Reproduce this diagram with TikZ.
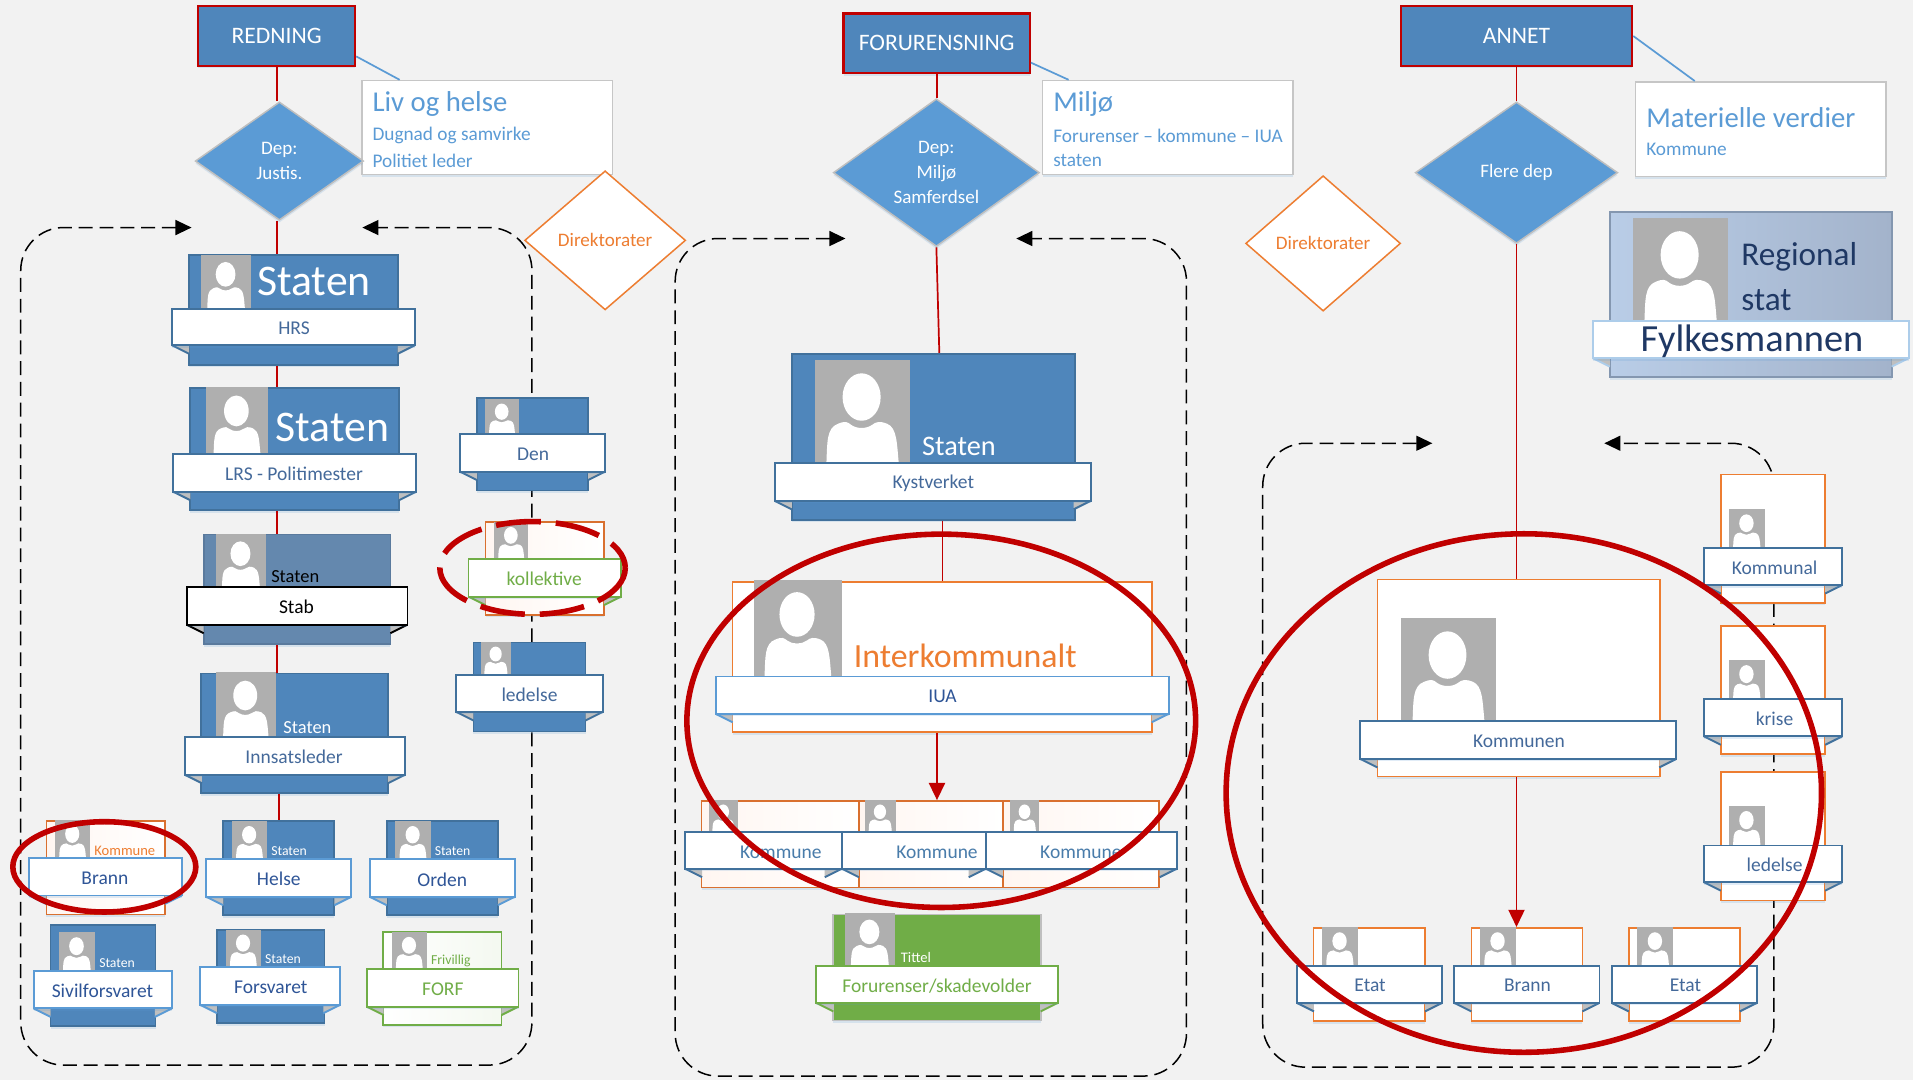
\documentclass[tikz,border=0pt]{standalone}
\usepackage{fontspec}
\setmainfont{Carlito}
\usetikzlibrary{arrows.meta,shapes.geometric,shadows}

\definecolor{bgcol}{HTML}{F2F2F2}
\definecolor{staterblue}{HTML}{4F86BB}
\definecolor{stateredge}{HTML}{41719C}
\definecolor{stabblue}{HTML}{6488AE}
\definecolor{noteblue}{HTML}{5B9BD5}
\definecolor{bandtxt}{HTML}{44699A}
\definecolor{darktxt}{HTML}{2F5597}
\definecolor{navytxt}{HTML}{1F3864}
\definecolor{kommedge}{HTML}{ED7D31}
\definecolor{kommdark}{HTML}{D9702F}
\definecolor{kommpale}{HTML}{FFF6F1}
\definecolor{frivgreen}{HTML}{70AD47}
\definecolor{ringred}{HTML}{C00000}
\definecolor{photogray}{HTML}{AFAFAF}
\definecolor{regionleft}{HTML}{B9CDE7}
\definecolor{regionright}{HTML}{A3B3CB}
\definecolor{regionedge}{HTML}{8497B0}

\tikzset{
  softshadow/.style={drop shadow={shadow xshift=0pt,shadow yshift=-1.2pt,opacity=.18,fill=noteblue}},
  % kort bak
  statebox/.style={rectangle,draw=stateredge,fill=staterblue,line width=.8pt,inner sep=0pt},
  stabbox/.style={statebox,draw=stabblue!90!black,fill=stabblue},
  kommbox/.style={rectangle,draw=kommedge,fill=white,line width=.8pt,inner sep=0pt},
  kommpink/.style={kommbox,draw=kommdark,left color=kommpale,right color=white},
  frivbox/.style={rectangle,draw=frivgreen,line width=.8pt,inner sep=0pt,left color=white,right color=frivgreen!8!white},
  greenbox/.style={statebox,draw=gray!50,fill=frivgreen},
  regionbox/.style={rectangle,draw=regionedge,line width=.8pt,inner sep=0pt,left color=regionleft,right color=regionright},
  % banner
  blueband/.style={rectangle,draw=stateredge,fill=white,line width=.9pt,inner sep=0pt,text=bandtxt,font=\fontsize{9.1}{10}\selectfont},
  lightband/.style={blueband,draw=noteblue,text=darktxt},
  kommband/.style={blueband,text=noteblue!80!black},
  blackband/.style={blueband,draw=black,text=black},
  greenband/.style={blueband,draw=frivgreen,text=frivgreen},
  fylkeband/.style={blueband,draw=noteblue!50!white,text=navytxt,font=\fontsize{17.9}{20}\selectfont},
  % tekst
  headbox/.style={rectangle,draw=ringred,fill=staterblue,line width=1.1pt,text=white,font=\fontsize{11}{12}\selectfont,softshadow},
  depbox/.style={diamond,draw=gray!50,fill=noteblue,line width=.7pt,inner sep=0pt,text=white,align=center,font=\fontsize{8.9}{11.6}\selectfont,softshadow},
  dirbox/.style={diamond,draw=kommedge,fill=white,line width=.7pt,inner sep=0pt,text=kommedge,font=\fontsize{8.9}{10}\selectfont},
  notebox/.style={rectangle,draw=gray!45,fill=white,line width=.7pt,inner sep=0pt,softshadow},
  notetitle/.style={anchor=west,inner sep=0pt,text=noteblue,font=\fontsize{13.4}{15}\selectfont},
  notetext/.style={anchor=west,inner sep=0pt,text=noteblue,font=\fontsize{9}{10}\selectfont},
  cardtext/.style={anchor=west,inner sep=0pt,text=white},
  % linjer
  redline/.style={draw=ringred,line width=.8pt},
  redarrow/.style={redline,-{Triangle[length=8pt,width=7.5pt]}},
  noteline/.style={draw=noteblue,line width=.8pt},
  dashbox/.style={draw=black,line width=.7pt,dash pattern=on 6.5pt off 3.2pt,rounded corners=20pt,
    {Triangle[length=7.5pt,width=7pt]}-{Triangle[length=7.5pt,width=7pt]}},
  redring/.style={draw=ringred,line width=2.6pt},
}

\newcommand{\backbox}[6]{%
  \node[#2,softshadow,minimum width={(#5-#3)*0.02cm},minimum height={(#6-#4)*0.02cm}] (#1) at ({(#3+#5)/2},{(#4+#6)/2}) {};
}
\newcommand{\photo}[4]{%
  \fill[photogray] (#1,#2) rectangle (#3,#4);
  \pgfmathsetmacro{\pw}{#3-#1}
  \pgfmathsetmacro{\ph}{#4-#2}
  \begin{scope}[shift={(#1,#2)},xscale=\pw,yscale=\ph]
    \fill[white] (.49,.36) ellipse [x radius=.2,y radius=.23];
    \fill[white] (.12,1) .. controls (.13,.8) and (.12,.66) .. (.24,.62) .. controls (.32,.59) and (.34,.6) .. (.38,.63)
      .. controls (.44,.67) and (.54,.67) .. (.6,.63) .. controls (.64,.6) and (.68,.59) .. (.76,.62)
      .. controls (.86,.66) and (.86,.8) .. (.88,1) -- cycle;
  \end{scope}
}
\newcommand{\banner}[8]{%
  \fill[gray!50] (#3,#6) -- ({#3+14},{#6+7}) -- ({#3+14},#6) -- cycle;
  \fill[gray!50] (#5,#6) -- ({#5-14},{#6+7}) -- ({#5-14},#6) -- cycle;
  \draw[#2,fill=none] (#3,#6) -- ({#3+14},{#6+7});
  \draw[#2,fill=none] (#5,#6) -- ({#5-14},{#6+7});
  \node[#2,softshadow,minimum width={(#5-#3)*0.02cm},minimum height={(#6-#4)*0.02cm}] (#1) at ({(#3+#5)/2},{(#4+#6)/2}) {};
  \node[#2,draw=none,fill=none] (#1t) at (#7,{(#4+#6)/2+1.2}) {#8};
}

\begin{document}
\begin{tikzpicture}[x=0.02cm,y=-0.02cm]
    \useasboundingbox (0,0) rectangle (1568,885.2);
    \fill[bgcol] (0,0) rectangle (1568,885.2);

    % Stiplede rammer
    \foreach \sec/\xa/\xb/\ya/\yb/\ta/\tb in {a/17/436/186.5/873/157/297, b/553.4/972.5/195.5/882/693/833, c/1035/1454/363.3/874.7/1174/1315}{
        \coordinate (\sec L) at (\ta,\ya);
        \coordinate (\sec R) at (\tb,\ya);
        \draw[dashbox] (\sec L) -- (\xa,\ya) -- (\xa,\yb) -- (\xb,\yb) -- (\xb,\ya) -- (\sec R);
    }

    % Toppbokser
    \node[headbox,minimum width=2.57cm,minimum height=.98cm] (redning) at (226.75,29.5) {REDNING};
    \node[headbox,minimum width=3.05cm,minimum height=.98cm] (forurensning) at (767.75,35.5) {FORURENSNING};
    \node[headbox,minimum width=3.79cm,minimum height=.98cm] (annet) at (1243,29.5) {ANNET};

    % Merknader
    \node[notebox,minimum width=4.11cm,minimum height=1.54cm] (notea) at (399.25,104.5) {};
    \node[notetitle] (noteat) at (305,85.5) {Liv og helse};
    \node[notetext] (noteau) at (305,111) {Dugnad og samvirke};
    \node[notetext] (noteav) at (305,131.5) {Politiet leder};

    \node[notebox,minimum width=4.11cm,minimum height=1.54cm] (noteb) at (957.25,104.5) {};
    \node[notetitle] (notebt) at (863,85.5) {Miljø};
    \node[notetext] (notebu) at (863,111) {Forurenser – kommune – IUA};
    \node[notetext] (notebv) at (863,131.5) {staten};

    \node[notebox,minimum width=4.11cm,minimum height=1.55cm] (notec) at (1443.25,105.75) {};
    \node[notetitle] (notect) at (1349,96) {Materielle verdier};
    \node[notetext] (notecu) at (1349,122.5) {Kommune};

    \draw[noteline] ([yshift=-9.5pt]redning.east) -- ([xshift=18pt]notea.north west);
    \draw[noteline] ([yshift=-9pt]forurensning.east) -- ([xshift=12.5pt]noteb.north west);
    \draw[noteline] ([yshift=0pt]annet.east) -- ([xshift=28pt]notec.north west);

    % Ruter
    \node[depbox,minimum width=2.76cm,minimum height=1.94cm] (depa) at (229,132) {Dep:\\Justis.};
    \node[depbox,minimum width=3.38cm,minimum height=2.32cm] (depb) at (767.5,141.5) {Dep:\\Miljø\\Samferdsel};
    \node[depbox,minimum width=3.32cm,minimum height=2.32cm] (depc) at (1243,141.5) {Flere dep};

    \node[dirbox,minimum width=2.64cm,minimum height=2.28cm] (dira) at (496,197) {Direktorater};
    \node[dirbox,minimum width=2.54cm,minimum height=2.22cm] (dirb) at (1084.5,199.5) {Direktorater};

    % Redning - kolonne
    \backbox{hrsbox}{statebox}{155}{209}{326}{299}
    \photo{165}{209}{205.6}{253}
    \node[cardtext,font=\fontsize{20.4}{22}\selectfont] (hrslab) at (210.5,230.5) {Staten};
    \banner{hrs}{blueband}{141}{253}{340}{283}{241}{HRS}

    \backbox{lrsbox}{statebox}{156}{318}{327}{418}
    \photo{169}{317}{219.5}{372}
    \node[cardtext,font=\fontsize{20.4}{22}\selectfont] (lrslab) at (225.5,350.5) {Staten};
    \banner{lrs}{blueband}{142}{372}{341}{403}{241}{LRS - Politimester}

    \backbox{stabb}{stabbox}{167.5}{438}{320}{528}
    \photo{177}{438}{218}{482}
    \node[cardtext,text=black,font=\fontsize{8.6}{10}\selectfont] (stablab) at (222,472.5) {Staten};
    \banner{stab}{blackband}{153}{481}{334}{512}{243}{Stab}

    \backbox{innbox}{statebox}{165}{552}{318}{650}
    \photo{177}{551}{226}{604}
    \node[cardtext,font=\fontsize{8.6}{10}\selectfont] (innlab) at (232,596) {Staten};
    \banner{inn}{blueband}{151.5}{604}{332}{635}{241}{Innsatsleder}

    % Rader med sma kort
    \foreach \n/\xa/\xb/\pa/\pb/\bxa/\bxb/\tx/\tt in {hel/183/274/190/219/169/288/228.5/Helse, ord/317/408/324/353/303/422/362.5/Orden}{
        \backbox{\n box}{statebox}{\xa}{673}{\xb}{750}
        \photo{\pa}{673}{\pb}{704}
        \node[cardtext,font=\fontsize{6.4}{8}\selectfont] (\n lab) at (\pb+3,697.5) {Staten};
        \banner{\n}{lightband}{\bxa}{704}{\bxb}{735}{\tx}{\tt}
    }

    \backbox{branabox}{kommpink}{38}{673}{135}{749.5}
    \photo{45}{672}{74}{704}
    \node[cardtext,text=kommedge,font=\fontsize{6.8}{8}\selectfont] (branalab) at (77,697) {Kommune};
    \banner{brana}{lightband}{24}{703.5}{149}{734}{86}{Brann}

    \backbox{sivbox}{statebox}{41.5}{758}{127.5}{841}
    \photo{48}{764}{78}{796}
    \node[cardtext,font=\fontsize{6.4}{8}\selectfont] (sivlab) at (81,789.5) {Staten};
    \banner{siv}{lightband}{27.5}{795.5}{141}{826.5}{84}{Sivilforsvaret}

    \backbox{forbox}{statebox}{178}{762}{266}{838.5}
    \photo{185}{762}{214}{792.5}
    \node[cardtext,font=\fontsize{6.4}{8}\selectfont] (forlab) at (217,786) {Staten};
    \banner{for}{lightband}{164}{792.5}{279}{823.5}{222}{Forsvaret}

    \backbox{forfbox}{frivbox}{314}{764}{411}{840}
    \photo{321}{764}{350}{794}
    \node[cardtext,text=frivgreen,font=\fontsize{6.4}{8}\selectfont] (forflab) at (353,788) {Frivillig};
    \banner{forf}{greenband}{300.5}{794}{425}{825}{363}{FORF}

    % Hoyre i rammen
    \backbox{denbox}{statebox}{391}{326.5}{482}{402}
    \photo{397.5}{327}{425.5}{356}
    \banner{den}{blueband}{377}{356}{496}{386.5}{437}{Den}

    \backbox{kolbox}{kommpink}{398}{428}{495}{504}
    \photo{405}{428}{433}{458}
    \banner{kol}{greenband}{384}{458}{509}{489}{446}{kollektive}

    \backbox{ledbox}{statebox}{388}{526.5}{480}{599.5}
    \photo{394}{526.5}{419}{553}
    \banner{led}{blueband}{374}{553}{494}{583.5}{434}{ledelse}

    % Forurensning - kolonne
    \backbox{kysbox}{statebox}{649}{290}{881}{426}
    \photo{668}{295}{746}{379.5}
    \node[cardtext,font=\fontsize{13.2}{15}\selectfont] (kyslab) at (755.5,365.5) {Staten};
    \banner{kys}{blueband}{635}{379.5}{894}{410.5}{765}{Kystverket}

    \backbox{iuabox}{kommbox}{600.5}{477}{944.5}{600}
    \photo{618}{475}{690}{554.5}
    \node[cardtext,text=kommedge,font=\fontsize{15.8}{18}\selectfont] (iualab) at (699.5,537.5) {Interkommunalt};
    \banner{iua}{lightband}{586.5}{554.5}{958}{585}{772.5}{IUA}

    \foreach \n/\xa/\xb/\pa/\pb/\bxa/\bxb/\tx in {koma/575/704/581/605/561.5/690/640, komb/704/822/709/734/690/808/768, komc/822/950/828/852/808/964.5/886}{
        \backbox{\n box}{kommpink}{\xa}{656.5}{\xb}{727.5}
        \photo{\pa}{656}{\pb}{682}
        \banner{\n}{kommband}{\bxa}{682}{\bxb}{712}{\tx}{Kommune}
    }

    \backbox{tilbox}{greenbox}{683}{749.5}{853}{836.5}
    \photo{692.5}{748}{733.5}{792}
    \node[cardtext,font=\fontsize{6.8}{8}\selectfont] (tillab) at (738,785) {Tittel};
    \banner{til}{greenband}{669}{791.5}{867}{822}{768}{Forurenser/skadevolder}

    % Annet - kolonne
    \backbox{fylbox}{regionbox}{1319.5}{173.5}{1550.5}{309}
    \photo{1338.5}{178.5}{1416.5}{263}
    \node[cardtext,text=navytxt,font=\fontsize{15.5}{18}\selectfont] (fyla) at (1427,210.5) {Regional};
    \node[cardtext,text=navytxt,font=\fontsize{15.5}{18}\selectfont] (fylb) at (1427,246) {stat};
    \banner{fyl}{fylkeband}{1305.5}{263}{1564.5}{293.5}{1436}{Fylkesmannen}

    \foreach \n/\ya/\pa/\ba/\bb/\tt in {kal/389/417.5/449/479.5/Kommunal, kri/513/541/573/603.5/krise, lel/632.5/660.5/693/723/ledelse}{
        \backbox{\n box}{kommbox}{1410.5}{\ya}{1496}{\ba+45}
        \photo{1417}{\pa}{1446.5}{\ba}
        \banner{\n}{blueband}{1396.5}{\ba}{1510}{\bb}{1454.5}{\tt}
    }

    \backbox{kunbox}{kommbox}{1129}{475}{1360.5}{636.5}
    \photo{1148.5}{506.5}{1226}{591}
    \banner{kun}{blueband}{1115}{591}{1374}{622}{1245}{Kommunen}

    \foreach \n/\xa/\xb/\pa/\pb/\bxa/\bxb/\tx/\tt in {eta/1076.5/1168/1083.5/1113/1063/1182/1123/Etat, brb/1206/1297/1213/1242.5/1192/1311/1252/Brann, etb/1335/1426/1342/1371.5/1321/1440/1381.5/Etat}{
        \backbox{\n box}{kommbox}{\xa}{760.5}{\xb}{837}
        \photo{\pa}{760}{\pb}{791.5}
        \banner{\n}{blueband}{\bxa}{791.5}{\bxb}{822}{\tx}{\tt}
    }

    % Rode linjer
    \draw[redline] (redning) -- (redning |- depa.north);
    \draw[redline] (redning |- depa.south) -- (redning |- hrsbox.north);
    \draw[redline] (redning |- hrsbox.south) -- (redning |- lrsbox.north);
    \draw[redline] (redning |- lrsbox.south) -- (redning |- stabb.north);
    \draw[redline] (redning |- stabb.south) -- (redning |- innbox.north);
    \draw[redline] (helt |- innbox.south) -- (helt |- helbox.north);

    \draw[redline] (forurensning.south) -- (forurensning |- depb.north);
    \draw[redline] (depb.south) -- ([xshift=2.8pt]kysbox.north);
    \draw[redline] (iuat |- kysbox.south) -- (iuat |- iuabox.north);
    \draw[redarrow] (kombt |- iuabox.south) -- (kombbox.north -| kombt);

    \draw[redline] (annet.south) -- (annet |- depc.north);
    \draw[redline] (depc.south) -- (depc |- kunbox.north);
    \draw[redarrow] (depc |- kunbox.south) -- (depc |- brbbox.north);

    % Rode ringer
    \draw[redring] (85.5,710.5) ellipse [x radius=75,y radius=37];
    \draw[redring,dash pattern=on 21pt off 7pt] (436.5,465.5) ellipse [x radius=76,y radius=38];
    \draw[redring] (771.5,590.8) ellipse [x radius=208.5,y radius=153];
    \draw[redring] (1249,650) ellipse [x radius=244,y radius=212.5];
\end{tikzpicture}
\end{document}
